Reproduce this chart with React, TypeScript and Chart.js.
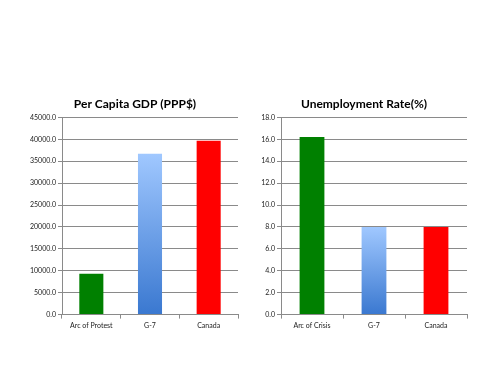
import React, { useEffect, useRef } from "react";
import { Chart, registerables } from "chart.js";

Chart.register(...registerables);

const gdpCategories = ["Arc of Protest", "G-7", "Canada"];
const gdpValues = [9300, 36700, 39700];
const unempCategories = ["Arc of Crisis", "G-7", "Canada"];
const unempValues = [16.2, 8.0, 8.0];

const FONT = "Lato, 'Open Sans', 'DejaVu Sans', sans-serif";
const GRID = "#8a8a8a";

function g7Gradient(ctx: any) {
  const chart = ctx.chart;
  const area = chart.chartArea;
  const ys = chart.scales && chart.scales.y;
  if (!area || !ys) return "#6fa0ee";
  const v = ctx.raw;
  const top = ys.getPixelForValue(v);
  const bottom = ys.getPixelForValue(0);
  if (!isFinite(top) || !isFinite(bottom) || top === bottom) return "#6fa0ee";
  const g = chart.ctx.createLinearGradient(0, top, 0, bottom);
  g.addColorStop(0, "#a0c8ff");
  g.addColorStop(1, "#3a78d0");
  return g;
}

function colorFor(ctx: any) {
  if (ctx.dataIndex === 0) return "#008000";
  if (ctx.dataIndex === 2) return "#ff0000";
  return g7Gradient(ctx);
}

// Centre the title across the whole canvas (including right padding)
const titleSpanPlugin = {
  id: "titleSpan",
  afterLayout(chart: any) {
    const tb = chart.titleBlock;
    if (tb) {
      tb.left = 0;
      tb.right = chart.width;
    }
  },
};

function makeConfig(
  title: string,
  labels: string[],
  values: number[],
  max: number,
  step: number,
  yWidth: number,
  padRight: number,
  barPct: number
): any {
  return {
    type: "bar",
    data: {
      labels,
      datasets: [
        {
          data: values,
          backgroundColor: colorFor,
          borderWidth: 0,
          categoryPercentage: 1,
          barPercentage: barPct,
        },
      ],
    },
    plugins: [titleSpanPlugin],
    options: {
      animation: false,
      responsive: false,
      maintainAspectRatio: false,
      layout: { padding: { left: 0, right: padRight, top: 0, bottom: 0 } },
      plugins: {
        legend: { display: false },
        tooltip: { enabled: false },
        title: {
          display: true,
          text: title,
          color: "#000",
          font: { family: FONT, size: 12, weight: "bold" },
          padding: { top: 9, bottom: 6 },
        },
      },
      scales: {
        x: {
          grid: {
            display: true,
            drawOnChartArea: false,
            drawTicks: true,
            tickLength: 4,
            color: GRID,
            offset: true,
          },
          border: { display: true, color: GRID },
          ticks: {
            color: "#222",
            font: { family: FONT, size: 7 },
            padding: 3,
            maxRotation: 0,
          },
        },
        y: {
          min: 0,
          max,
          afterFit: (s: any) => {
            s.width = yWidth;
          },
          grid: {
            color: GRID,
            drawTicks: true,
            tickLength: 4,
          },
          border: { display: true, color: GRID },
          ticks: {
            stepSize: step,
            color: "#222",
            font: { family: FONT, size: 7 },
            padding: 2,
            callback: (v: any) => Number(v).toFixed(1),
          },
        },
      },
    },
  };
}

function BarChart(props: {
  cfg: any;
  left: number;
  top: number;
  width: number;
  height: number;
}) {
  const ref = useRef<HTMLCanvasElement>(null);
  useEffect(() => {
    if (!ref.current) return;
    const c = new Chart(ref.current, props.cfg);
    return () => c.destroy();
  }, []);
  return (
    <canvas
      ref={ref}
      width={props.width}
      height={props.height}
      style={{
        position: "absolute",
        left: props.left,
        top: props.top,
        width: props.width,
        height: props.height,
      }}
    />
  );
}

export default function App() {
  const left = makeConfig(
    "Per Capita GDP (PPP$)",
    gdpCategories,
    gdpValues,
    45000,
    5000,
    42,
    12,
    0.41
  );
  const right = makeConfig(
    "Unemployment Rate(%)",
    unempCategories,
    unempValues,
    18,
    2,
    23,
    3,
    0.4
  );
  return (
    <div
      style={{
        position: "fixed",
        left: 0,
        top: 0,
        width: 500,
        height: 375,
        background: "#fff",
      }}
    >
      <BarChart cfg={left} left={20} top={88} width={230} height={245} />
      <BarChart cfg={right} left={258} top={88} width={212} height={245} />
    </div>
  );
}
